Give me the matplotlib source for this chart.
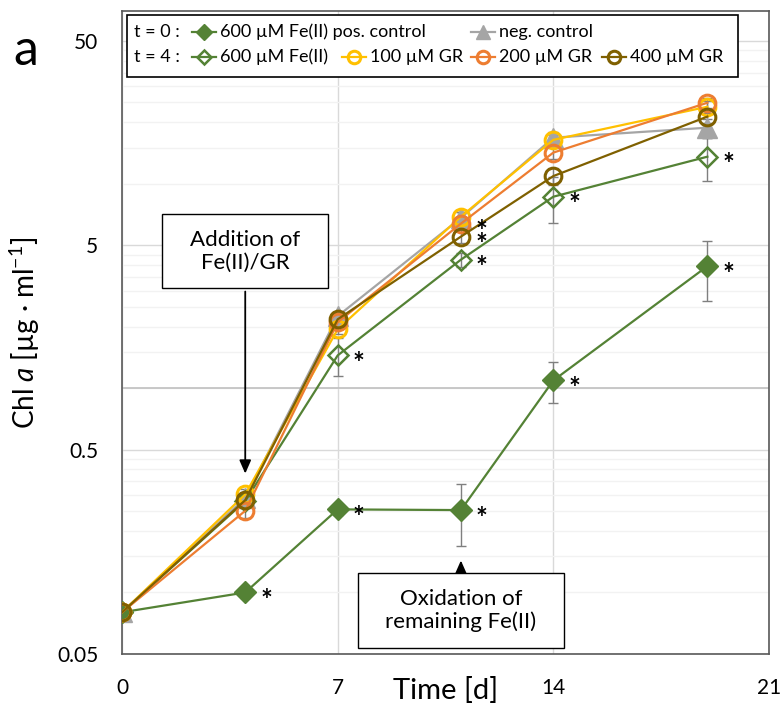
import matplotlib
matplotlib.use('Agg')
import matplotlib.pyplot as plt
from matplotlib.lines import Line2D
from matplotlib.patches import Rectangle
from matplotlib.path import Path
from matplotlib.ticker import FixedLocator, FixedFormatter, NullFormatter

plt.rcParams['font.family'] = ['Lato', 'DejaVu Sans']
plt.rcParams['mathtext.fontset'] = 'custom'
plt.rcParams['mathtext.rm'] = 'Lato'
plt.rcParams['mathtext.it'] = 'Lato:italic'

DAYS = [0, 4, 7, 11, 14, 19]

POS_CTRL  = [0.08, 0.100, 0.255, 0.253, 1.09, 3.95]
POS_ERR   = [0.004, 0.006, 0.015, 0.085, 0.245, 1.28]
NEG_CTRL  = [0.08, 0.290, 2.25, 6.80, 16.8, 18.8]
NEG_ERR   = [0.004, 0.020, 0.12, 0.50, 1.20, 2.00]
FE_T4     = [0.08, 0.280, 1.445, 4.25, 8.64, 13.56]
FE_T4_ERR = [0.004, 0.020, 0.305, 0.35, 2.20, 3.20]
GR_100    = [0.08, 0.302, 1.94, 6.90, 16.4, 23.8]
GR_100_ERR = [0.004, 0.020, 0.10, 0.40, 1.00, 1.50]
GR_200    = [0.08, 0.251, 2.10, 6.38, 14.2, 24.9]
GR_200_ERR = [0.004, 0.020, 0.10, 0.40, 1.00, 1.50]
GR_400    = [0.08, 0.283, 2.17, 5.51, 10.9, 21.3]
GR_400_ERR = [0.004, 0.020, 0.10, 0.40, 1.00, 1.50]

# 1 = significant (asterisk next to the point)
POS_SIG    = [0, 1, 1, 1, 1, 1]
FE_T4_SIG  = [0, 0, 1, 1, 1, 1]
GR_200_SIG = [0, 0, 0, 1, 0, 0]
GR_400_SIG = [0, 0, 0, 1, 0, 0]
NO_SIG     = [0, 0, 0, 0, 0, 0]

GREEN  = '#548235'
GRAY   = '#A5A5A5'
YELLOW = '#FFC000'
ORANGE = '#ED7D31'
OLIVE  = '#7F6000'

LW = 1.6

# drawing order: bottom to top
SERIES = [
    (NEG_CTRL, NEG_ERR, NO_SIG,
     dict(color=GRAY, marker='^', ms=14, mfc=GRAY, mec=GRAY, mew=1)),
    (POS_CTRL, POS_ERR, POS_SIG,
     dict(color=GREEN, marker='D', ms=11, mfc=GREEN, mec=GREEN, mew=1)),
    (FE_T4, FE_T4_ERR, FE_T4_SIG,
     dict(color=GREEN, marker='D', ms=10, mfc='none', mec=GREEN, mew=1.8)),
    (GR_100, GR_100_ERR, NO_SIG,
     dict(color=YELLOW, marker='o', ms=12, mfc='none', mec=YELLOW, mew=2.2)),
    (GR_200, GR_200_ERR, GR_200_SIG,
     dict(color=ORANGE, marker='o', ms=12, mfc='none', mec=ORANGE, mew=2.2)),
    (GR_400, GR_400_ERR, GR_400_SIG,
     dict(color=OLIVE, marker='o', ms=12, mfc='none', mec=OLIVE, mew=2.2)),
]

W, H = 784, 722
fig = plt.figure(figsize=(W / 100, H / 100), dpi=100)
ax = fig.add_axes([122 / W, 1 - 654 / H, 647 / W, 643 / H])

for i, (vals, err, sig, style) in enumerate(SERIES):
    ax.errorbar(DAYS, vals, yerr=err, fmt='none', ecolor='#7F7F7F',
                elinewidth=1, capsize=3.5, capthick=1, zorder=2 + i * 0.1)
    ax.plot(DAYS, vals, lw=LW, zorder=3 + i * 0.1, **style)
    for d, v, s in zip(DAYS, vals, sig):
        if s:
            ax.annotate('*', (d, v), xytext=(15, -12), textcoords='offset points',
                        ha='center', va='baseline', fontsize=20, fontweight='bold',
                        zorder=5)

ax.set_yscale('log')
ax.set_xlim(0, 21)
ax.set_ylim(0.05, 70)
ax.xaxis.set_major_locator(FixedLocator([0, 7, 14, 21]))
ax.yaxis.set_major_locator(FixedLocator([0.05, 0.5, 5, 50]))
ax.yaxis.set_major_formatter(FixedFormatter(['0.05', '0.5', '5', '50']))
minor = [b * k for b in (0.05, 0.5, 5) for k in range(2, 10)]
ax.yaxis.set_minor_locator(FixedLocator(minor))
ax.yaxis.set_minor_formatter(NullFormatter())
ax.tick_params(which='both', length=0, labelsize=15)
ax.tick_params(axis='x', pad=17)
ax.tick_params(axis='y', pad=17)
ax.grid(True, which='major', color='#D9D9D9', lw=1, zorder=0)
ax.grid(True, which='minor', axis='y', color='#F2F2F2', lw=1, zorder=0)
ax.set_axisbelow(True)
ax.axhline(1, color='#BFBFBF', lw=1.2, zorder=1)
for sp in ax.spines.values():
    sp.set_color('#595959')
    sp.set_linewidth(1.2)

ax.set_xlabel('Time [d]', fontsize=21)
ax.xaxis.set_label_coords(0.5, -0.036)
ax.set_ylabel(r'Chl $\mathit{a}$ [µg · ml$^{\mathrm{-1}}$]', fontsize=20)
ax.yaxis.set_label_coords(-0.123, 0.5)


def wide_box(x0, y0, width, height, mutation_size):
    px, py = 1.25 * mutation_size, 0.7 * mutation_size
    x0, y0 = x0 - px, y0 - py
    x1, y1 = x0 + width + 2 * px, y0 + height + 2 * py
    return Path([(x0, y0), (x1, y0), (x1, y1), (x0, y1), (x0, y0)], closed=True)


box = dict(boxstyle=wide_box, fc='white', ec='black', lw=1)
arrow = dict(arrowstyle='-|>,head_length=0.5,head_width=0.22', color='black', lw=1.3)
ax.annotate('Addition of\nFe(II)/GR', xy=(4, 0.37), xytext=(4, 4.68),
            ha='center', va='center', fontsize=16, bbox=box, arrowprops=arrow,
            zorder=6)
ax.annotate('Oxidation of\nremaining Fe(II)', xy=(11, 0.148), xytext=(11, 0.0816),
            ha='center', va='center', fontsize=16, bbox=box, arrowprops=arrow,
            zorder=6)


# legend, laid out in figure pixels
def fx(px):
    return px / W


def fy(py):
    return 1 - py / H


fig.add_artist(Rectangle((fx(127), fy(77)), fx(738) - fx(127), fy(15) - fy(77),
                         transform=fig.transFigure, fc='white', ec='black', lw=1.2))

LEGEND = [
    # (row y, handle x0, series index, label)
    (32, 192, 1, '600 µM Fe(II) pos. control'),
    (32, 471, 0, 'neg. control'),
    (57, 192, 2, '600 µM Fe(II)'),
    (57, 342, 3, '100 µM GR'),
    (57, 471, 4, '200 µM GR'),
    (57, 602, 5, '400 µM GR'),
]
fig.text(fx(134), fy(32), 't = 0 :', fontsize=13, va='center')
fig.text(fx(134), fy(57), 't = 4 :', fontsize=13, va='center')
for row, x0, idx, label in LEGEND:
    style = dict(SERIES[idx][3])
    style['ms'] = style['ms'] * 0.75
    fig.add_artist(Line2D([fx(x0), fx(x0 + 12), fx(x0 + 24)], [fy(row)] * 3,
                          transform=fig.transFigure, lw=LW, markevery=[1], **style))
    fig.text(fx(x0 + 28), fy(row), label, fontsize=13, va='center')

fig.text(fx(26), fy(51), 'a', fontsize=36, ha='center', va='center')

plt.savefig('out.png', dpi=100)
plt.close()
